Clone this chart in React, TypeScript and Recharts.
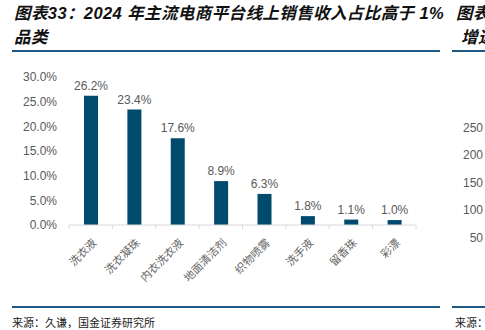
import React from 'react';
import { BarChart, Bar, XAxis, YAxis, LabelList } from 'recharts';

const categories = ['洗衣液', '洗衣凝珠', '内衣洗衣液', '地面清洁剂', '织物喷雾', '洗手液', '留香珠', '彩漂'];
const shares = [26.2, 23.4, 17.6, 8.9, 6.3, 1.8, 1.1, 1.0];
const yTicks = [0, 5, 10, 15, 20, 25, 30];
const nextChartTicks = ['250', '200', '150', '100', '50'];

const data = categories.map((name, i) => ({ name, share: shares[i] }));

const W = 485;
const H = 330;
const PLOT_LEFT = 69;
const PLOT_RIGHT = 416;
const PLOT_TOP = 77;
const PLOT_BOTTOM = 225;
const BAND = (PLOT_RIGHT - PLOT_LEFT) / categories.length;

const cjk = '"Noto Sans CJK SC", "Noto Sans", sans-serif';
const latin = '"Liberation Sans", Arial, "Noto Sans CJK SC", sans-serif';
const gray = '#595959';

const titleStyle: React.CSSProperties = {
  position: 'absolute',
  fontSize: 16.5,
  letterSpacing: 0.4,
  fontWeight: 700,
  fontStyle: 'italic',
  fontFamily: latin,
  color: '#111',
  whiteSpace: 'nowrap',
  lineHeight: '22px',
};

function CategoryTick(props: any) {
  const { x, y, payload, index } = props;
  const last = index === categories.length - 1;
  return (
    <g>
      <line x1={x - BAND / 2} x2={x - BAND / 2} y1={y - 8} y2={y - 4} stroke="#d9d9d9" />
      {last && <line x1={x + BAND / 2} x2={x + BAND / 2} y1={y - 8} y2={y - 4} stroke="#d9d9d9" />}
      <text
        x={x + 3}
        y={y + 7}
        transform={`rotate(-45 ${x + 3} ${y + 7})`}
        textAnchor="end"
        dominantBaseline="central"
        fill="#666"
        fontSize={11}
        fontFamily={cjk}
      >
        {payload.value}
      </text>
    </g>
  );
}

export default function App() {
  return (
    <div style={{ position: 'absolute', left: 0, top: 0, width: W, height: H, overflow: 'hidden', background: '#fff' }}>
      <div style={{ ...titleStyle, left: 14, top: 2 }}>图表33：2024 年主流电商平台线上销售收入占比高于 1%</div>
      <div style={{ ...titleStyle, left: 14, top: 26 }}>品类</div>
      <div style={{ ...titleStyle, left: 456, top: 2 }}>图表34：</div>
      <div style={{ ...titleStyle, left: 461, top: 26 }}>增速</div>
      <div style={{ position: 'absolute', left: 12, top: 50, width: 428, height: 1.5, background: '#1f5a87' }} />
      <div style={{ position: 'absolute', left: 452, top: 50, width: 40, height: 1.5, background: '#1f5a87' }} />
      <div style={{ position: 'absolute', left: 12, top: 306, width: 428, height: 1.5, background: '#1f5a87' }} />
      <div style={{ position: 'absolute', left: 452, top: 306, width: 40, height: 1.5, background: '#1f5a87' }} />
      <div style={{ position: 'absolute', left: 12, top: 313, fontSize: 11, fontFamily: cjk, color: '#222', whiteSpace: 'nowrap', lineHeight: '18px' }}>
        来源：久谦，国金证券研究所
      </div>
      <div style={{ position: 'absolute', left: 455, top: 313, fontSize: 11, fontFamily: cjk, color: '#222', whiteSpace: 'nowrap', lineHeight: '18px' }}>
        来源：
      </div>
      {nextChartTicks.map((t, i) => (
        <div key={t} style={{ position: 'absolute', right: 2, top: 120 + i * 27.4, fontSize: 12, fontFamily: latin, color: gray, lineHeight: '16px' }}>
          {t}
        </div>
      ))}
      <div style={{ position: 'absolute', left: 0, top: 0 }}>
        <BarChart
          width={W}
          height={H}
          data={data}
          margin={{ top: PLOT_TOP, right: W - PLOT_RIGHT, bottom: H - PLOT_BOTTOM - 70, left: 0 }}
          barCategoryGap="34%"
        >
          <YAxis
            width={PLOT_LEFT}
            domain={[0, 30]}
            ticks={yTicks}
            interval={0}
            axisLine={false}
            tickLine={false}
            tickMargin={6}
            tickFormatter={(v: number) => `${v.toFixed(1)}%`}
            tick={{ fill: gray, fontSize: 12, fontFamily: latin }}
          />
          <XAxis
            dataKey="name"
            height={70}
            interval={0}
            axisLine={{ stroke: '#d9d9d9' }}
            tickLine={false}
            tick={<CategoryTick />}
          />
          <Bar dataKey="share" fill="#004a6e" barSize={14} isAnimationActive={false}>
            <LabelList
              dataKey="share"
              position="top"
              offset={6}
              formatter={(v: any) => `${Number(v).toFixed(1)}%`}
              style={{ fill: gray, fontSize: 12, fontFamily: latin }}
            />
          </Bar>
        </BarChart>
      </div>
    </div>
  );
}
